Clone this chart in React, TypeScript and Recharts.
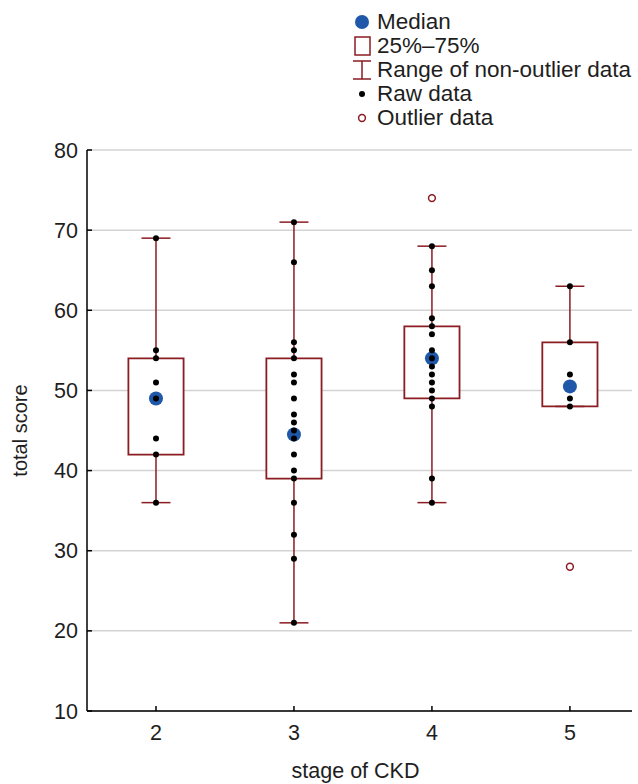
import {
  CartesianGrid,
  ComposedChart,
  Label,
  ReferenceArea,
  ReferenceLine,
  Scatter,
  XAxis,
  YAxis,
} from 'recharts'

const stages = [2, 3, 4, 5]
const rawStage2 = [69, 55, 54, 51, 49, 44, 42, 36]
const rawStage3 = [71, 66, 56, 55, 54, 52, 51, 49, 47, 46, 45, 44, 42, 40, 39, 36, 32, 29, 21]
const rawStage4 = [68, 65, 63, 59, 58, 57, 55, 54, 53, 52, 51, 50, 49, 48, 39, 36]
const rawStage5 = [63, 56, 52, 49, 48]
const medians = [49, 44.5, 54, 50.5]
const q1 = [42, 39, 49, 48]
const q3 = [54, 54, 58, 56]
const whiskerLow = [36, 21, 36, 48]
const whiskerHigh = [69, 71, 68, 63]
const outlierStages = [4, 5]
const outlierValues = [74, 28]
const yTicks = [10, 20, 30, 40, 50, 60, 70, 80]

const RED = '#8a1c22'
const BLUE = '#1f58a8'
const FONT = '"Liberation Sans", Arial, sans-serif'
const TEXT = '#1e1e1e'

const rawData = [rawStage2, rawStage3, rawStage4, rawStage5].flatMap((vals, i) =>
  vals.map((v) => ({ x: stages[i], y: v }))
)
const medianData = stages.map((s, i) => ({ x: s, y: medians[i] }))
const outlierData = outlierStages.map((s, i) => ({ x: s, y: outlierValues[i] }))

const BOX_HALF = 0.2
const CAP_HALF = 0.105

const Legend = () => {
  const row = { display: 'flex', alignItems: 'center', height: 24 }
  const icon = { width: 24, display: 'flex', justifyContent: 'center', marginRight: 3 }
  return (
    <div style={{ position: 'absolute', left: 350, top: 10, fontFamily: FONT, fontSize: 22.5, color: TEXT, lineHeight: '24px' }}>
      <div style={row}>
        <span style={icon}><svg width="16" height="16"><circle cx="8" cy="8" r="7" fill={BLUE} /></svg></span>
        Median
      </div>
      <div style={row}>
        <span style={icon}><svg width="17" height="20"><rect x="1" y="1" width="15" height="18" fill="none" stroke={RED} strokeWidth="1.5" /></svg></span>
        25%–75%
      </div>
      <div style={row}>
        <span style={icon}><svg width="20" height="20"><path d="M1 1H19M10 1V19M1 19H19" stroke={RED} strokeWidth="1.5" fill="none" /></svg></span>
        Range of non-outlier data
      </div>
      <div style={row}>
        <span style={icon}><svg width="8" height="8"><circle cx="4" cy="4" r="3" fill="#000" /></svg></span>
        Raw data
      </div>
      <div style={row}>
        <span style={icon}><svg width="10" height="10"><circle cx="5" cy="5" r="3.4" fill="none" stroke={RED} strokeWidth="1.5" /></svg></span>
        Outlier data
      </div>
    </div>
  )
}

export default function App() {
  const tickStyle = { fontSize: 21.5, fill: TEXT, fontFamily: FONT }
  return (
    <div style={{ position: 'absolute', left: 0, top: 0, width: 638, height: 784, background: '#fff' }}>
      <Legend />
      <ComposedChart width={638} height={784} margin={{ top: 150, right: 6, left: 0, bottom: 0 }}>
        <CartesianGrid vertical={false} stroke="#d3d3d3" strokeWidth={1.5} />
        <XAxis
          type="number"
          dataKey="x"
          domain={[1.5, 5.45]}
          ticks={stages}
          allowDataOverflow
          height={73}
          tick={tickStyle}
          tickSize={-5}
          tickMargin={19}
          axisLine={{ stroke: '#000', strokeWidth: 1.5 }}
          tickLine={{ stroke: '#000', strokeWidth: 1.5 }}
        >
          <Label
            content={({ viewBox }: any) => (
              <text x={viewBox.x + viewBox.width / 2 - 4} y={viewBox.y + 67} textAnchor="middle" fontSize={21.5} fontFamily={FONT} fill={TEXT}>
                stage of CKD
              </text>
            )}
          />
        </XAxis>
        <XAxis xAxisId="top" orientation="top" type="number" domain={[1.5, 5.45]} height={0} tick={false} tickLine={false} axisLine={{ stroke: '#000', strokeWidth: 1.5 }} />
        <YAxis
          type="number"
          domain={[10, 80]}
          ticks={yTicks}
          width={87}
          tick={tickStyle}
          tickSize={-5}
          tickMargin={14}
          axisLine={{ stroke: '#000', strokeWidth: 1.5 }}
          tickLine={{ stroke: '#000', strokeWidth: 1.5 }}
        >
          <Label
            content={({ viewBox }: any) => {
              const cx = viewBox.x + 27
              const cy = viewBox.y + viewBox.height / 2
              return (
                <text x={cx} y={cy} transform={`rotate(-90 ${cx} ${cy})`} textAnchor="middle" fontSize={20} fontFamily={FONT} fill={TEXT}>
                  total score
                </text>
              )
            }}
          />
        </YAxis>
        <YAxis yAxisId="right" orientation="right" type="number" domain={[10, 80]} width={0} tick={false} tickLine={false} axisLine={{ stroke: '#000', strokeWidth: 1.5 }} />

        {stages.map((s, i) => (
          <ReferenceLine key={`wh${s}`} segment={[{ x: s, y: q3[i] }, { x: s, y: whiskerHigh[i] }]} stroke={RED} strokeWidth={1.5} />
        ))}
        {stages.map((s, i) => (
          <ReferenceLine key={`wl${s}`} segment={[{ x: s, y: whiskerLow[i] }, { x: s, y: q1[i] }]} stroke={RED} strokeWidth={1.5} />
        ))}
        {stages.map((s, i) => (
          <ReferenceLine key={`ch${s}`} segment={[{ x: s - CAP_HALF, y: whiskerHigh[i] }, { x: s + CAP_HALF, y: whiskerHigh[i] }]} stroke={RED} strokeWidth={1.5} />
        ))}
        {stages.map((s, i) => (
          <ReferenceLine key={`cl${s}`} segment={[{ x: s - CAP_HALF, y: whiskerLow[i] }, { x: s + CAP_HALF, y: whiskerLow[i] }]} stroke={RED} strokeWidth={1.5} />
        ))}
        {stages.map((s, i) => (
          <ReferenceArea key={`box${s}`} x1={s - BOX_HALF} x2={s + BOX_HALF} y1={q1[i]} y2={q3[i]} fill="#fff" fillOpacity={1} stroke={RED} strokeWidth={1.8} />
        ))}

        <Scatter
          data={medianData}
          dataKey="y"
          isAnimationActive={false}
          shape={(p: any) => <circle cx={p.cx} cy={p.cy} r={7} fill={BLUE} />}
        />
        <Scatter
          data={rawData}
          dataKey="y"
          isAnimationActive={false}
          shape={(p: any) => <circle cx={p.cx} cy={p.cy} r={3} fill="#000" />}
        />
        <Scatter
          data={outlierData}
          dataKey="y"
          isAnimationActive={false}
          shape={(p: any) => <circle cx={p.cx} cy={p.cy} r={3.4} fill="#fff" stroke={RED} strokeWidth={1.5} />}
        />
      </ComposedChart>
    </div>
  )
}
